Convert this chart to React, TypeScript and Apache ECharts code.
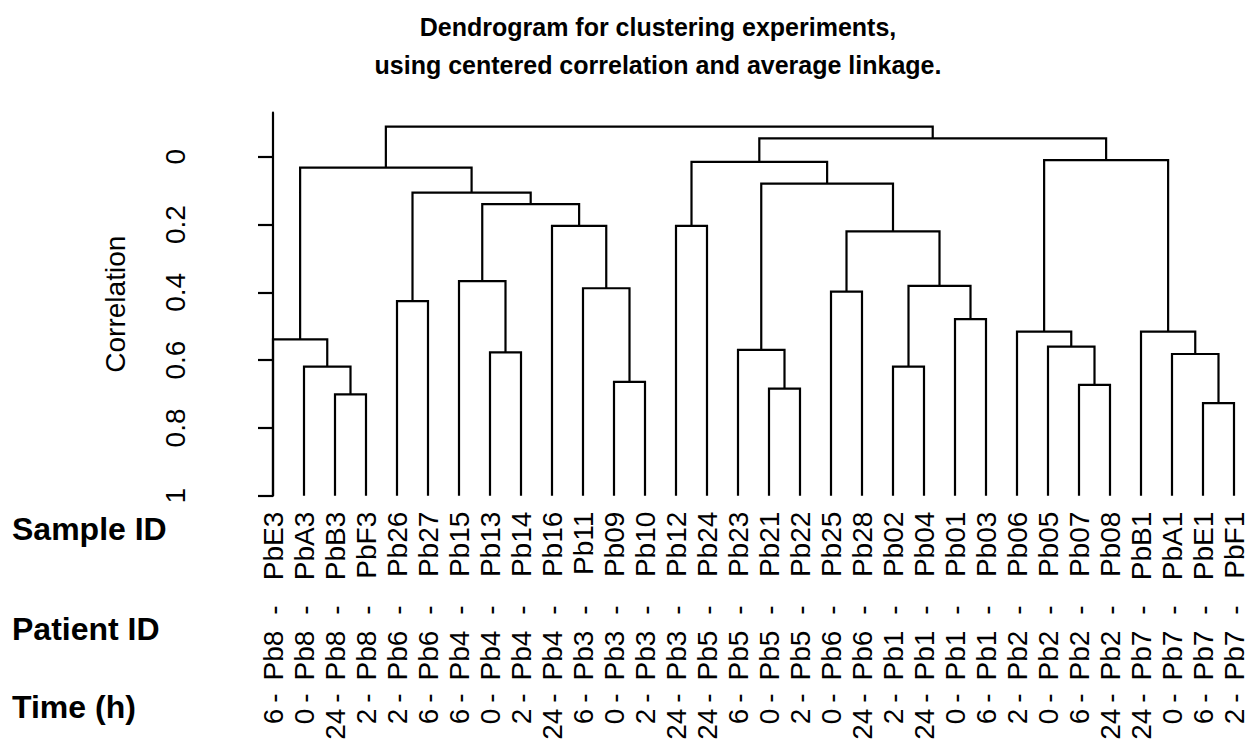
import React, { useEffect, useRef } from "react";
import * as echarts from "echarts";

const FONT = "'Liberation Sans', Arial, Helvetica, sans-serif";

const sampleIds = ["PbE3","PbA3","PbB3","PbF3","Pb26","Pb27","Pb15","Pb13","Pb14","Pb16","Pb11","Pb09","Pb10","Pb12","Pb24","Pb23","Pb21","Pb22","Pb25","Pb28","Pb02","Pb04","Pb01","Pb03","Pb06","Pb05","Pb07","Pb08","PbB1","PbA1","PbE1","PbF1"];
const patientIds = ["Pb8","Pb8","Pb8","Pb8","Pb6","Pb6","Pb4","Pb4","Pb4","Pb4","Pb3","Pb3","Pb3","Pb3","Pb5","Pb5","Pb5","Pb5","Pb6","Pb6","Pb1","Pb1","Pb1","Pb1","Pb2","Pb2","Pb2","Pb2","Pb7","Pb7","Pb7","Pb7"];
const timesH = ["6","0","24","2","2","6","6","0","2","24","6","0","2","24","24","6","0","2","0","24","2","24","0","6","2","0","6","24","24","0","6","2"];

// hclust-style merges: negative = leaf (1-based), positive = earlier merge (1-based)
const mergeA = [-3, -2, -1, -5, -8, -7, -12, -11, -10, 6, 4, 3, -14, -17, -16, -19, -21, -23, 17, 16, 15, 13, -27, -26, -25, -31, -30, -29, 25, 22, 12];
const mergeB = [-4, 1, 2, -6, -9, 5, -13, 7, 8, 9, 10, 11, -15, -18, 14, -20, -22, -24, 18, 19, 20, 21, -28, 23, 24, -32, 26, 27, 28, 29, 30];
const mergeHeight = [0.701, 0.619, 0.539, 0.426, 0.577, 0.367, 0.664, 0.388, 0.204, 0.140, 0.106, 0.032, 0.204, 0.684, 0.570, 0.398, 0.619, 0.479, 0.381, 0.220, 0.079, 0.015, 0.673, 0.560, 0.516, 0.727, 0.582, 0.516, 0.010, -0.054, -0.089];

const yTicks = [0, 0.2, 0.4, 0.6, 0.8, 1];
const leafHeight = 1;

function buildSegments() {
  const nodeX: number[] = [];
  const nodeH: number[] = [];
  const pos = (ref: number) =>
    ref < 0 ? [(-ref) - 1, leafHeight] : [nodeX[ref - 1], nodeH[ref - 1]];
  const segs: number[][] = [];
  for (let j = 0; j < mergeA.length; j++) {
    const [xa, ha] = pos(mergeA[j]);
    const [xb, hb] = pos(mergeB[j]);
    const h = mergeHeight[j];
    nodeX.push((xa + xb) / 2);
    nodeH.push(h);
    segs.push([xa, ha, xb, hb, h]);
  }
  return segs;
}

const catAxis = (data: string[], offset: number, margin: number) => ({
  type: "category",
  data,
  position: "bottom",
  offset,
  boundaryGap: true,
  axisLine: { show: false },
  axisTick: { show: false },
  splitLine: { show: false },
  axisLabel: {
    interval: 0,
    rotate: 90,
    margin,
    fontSize: 28,
    color: "#000",
    fontFamily: FONT,
  },
});

export default function App() {
  const ref = useRef<HTMLDivElement>(null);
  useEffect(() => {
    if (!ref.current) return;
    const chart = echarts.init(ref.current, null, { renderer: "svg" });
    const dashes = sampleIds.map(() => "-");
    const option: any = {
      animation: false,
      backgroundColor: "#fff",
      title: {
        text: "Dendrogram for clustering experiments,\nusing centered correlation and average linkage.",
        left: 658,
        top: 8,
        padding: 0,
        textAlign: "center",
        textStyle: {
          fontSize: 25,
          fontWeight: "bold",
          lineHeight: 38,
          color: "#000",
          fontFamily: FONT,
        },
      },
      grid: {
        left: 257.5,
        right: 0.5,
        top: 112.7,
        height: 383,
        containLabel: false,
        outerBoundsMode: "none",
      },
      xAxis: [
        { type: "value", min: -0.5, max: 31.5, show: false },
        catAxis(sampleIds, 0, 16),
        catAxis(dashes, 109.6, 0),
        catAxis(patientIds, 135, 0),
        catAxis(dashes, 197.6, 0),
        catAxis(timesH, 213, 0),
      ],
      yAxis: {
        type: "value",
        inverse: true,
        min: -0.13,
        max: 1,
        position: "left",
        offset: 40.8,
        axisLine: { show: true, lineStyle: { color: "#000", width: 2.2 } },
        axisTick: {
          show: true,
          customValues: yTicks,
          length: 15,
          lineStyle: { color: "#000", width: 2.2 },
        },
        axisLabel: {
          show: true,
          customValues: yTicks,
          rotate: 90,
          margin: 27,
          fontSize: 28,
          color: "#000",
          fontFamily: FONT,
          formatter: (v: number) => String(v),
        },
        splitLine: { show: false },
        name: "Correlation",
        nameLocation: "middle",
        nameRotate: 90,
        nameGap: 87,
        nameTextStyle: { fontSize: 28, color: "#000", fontFamily: FONT },
      },
      graphic: [
        { type: "text", x: 12, y: 528.8, style: { text: "Sample ID", fontSize: 32, fontWeight: "bold", fontFamily: FONT, fill: "#000", align: "left", verticalAlign: "middle" } },
        { type: "text", x: 12, y: 628.8, style: { text: "Patient ID", fontSize: 32, fontWeight: "bold", fontFamily: FONT, fill: "#000", align: "left", verticalAlign: "middle" } },
        { type: "text", x: 12, y: 706.8, style: { text: "Time (h)", fontSize: 32, fontWeight: "bold", fontFamily: FONT, fill: "#000", align: "left", verticalAlign: "middle" } },
      ],
      series: [
        {
          type: "custom",
          coordinateSystem: "cartesian2d",
          xAxisIndex: 0,
          yAxisIndex: 0,
          clip: false,
          data: buildSegments(),
          encode: { x: [0, 2], y: [1, 3, 4] },
          renderItem: (params: any, api: any) => {
            const xa = api.value(0), ha = api.value(1), xb = api.value(2), hb = api.value(3), h = api.value(4);
            const pts = [api.coord([xa, ha]), api.coord([xa, h]), api.coord([xb, h]), api.coord([xb, hb])];
            return {
              type: "polyline",
              shape: { points: pts },
              style: { stroke: "#000", lineWidth: 2.2, fill: "none", lineJoin: "miter" },
            };
          },
        },
      ],
    };
    chart.setOption(option);
    return () => chart.dispose();
  }, []);
  return (
    <div
      ref={ref}
      style={{ position: "absolute", left: 0, top: 0, width: 1250, height: 749 }}
    />
  );
}
